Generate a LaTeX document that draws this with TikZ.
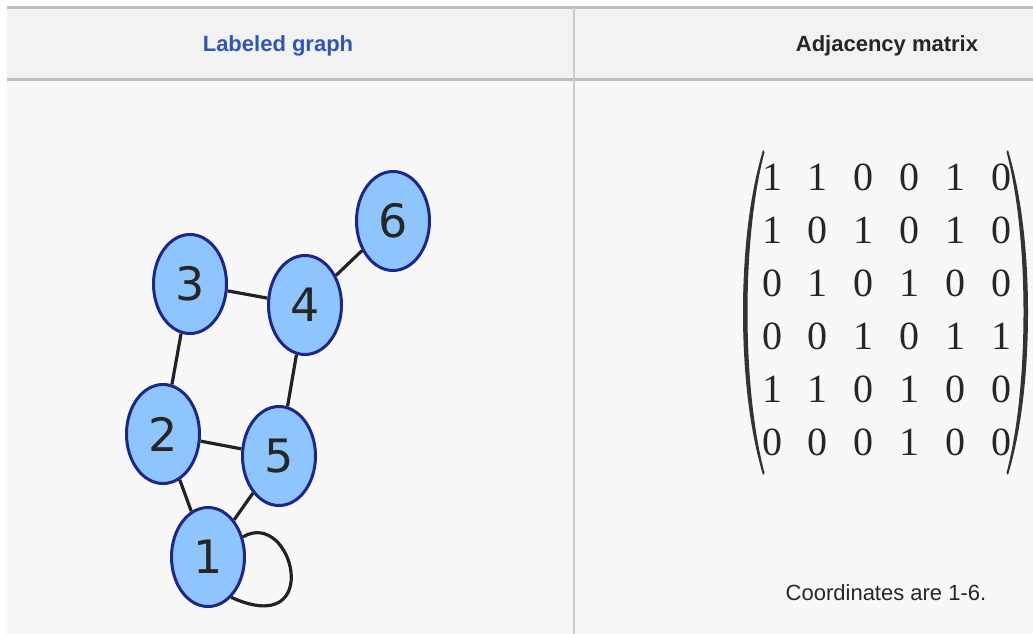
\documentclass[tikz,border=0pt]{standalone}
\usepackage{fontspec}
\setmainfont{Liberation Sans}
\newfontfamily\nodefont{DejaVu Sans}
\newfontfamily\matfont{Liberation Serif}
\usetikzlibrary{shapes.geometric}
\definecolor{hdrbg}{HTML}{F2F2F2}
\definecolor{bodybg}{HTML}{F8F8F8}
\definecolor{rulegray}{HTML}{BDBDBD}
\definecolor{divgray}{HTML}{CCCCCC}
\definecolor{nodefill}{HTML}{8EC5FD}
\definecolor{nodeedge}{HTML}{1C268C}
\definecolor{linkblue}{HTML}{2F55B8}
\definecolor{edgecol}{HTML}{222222}
\tikzset{
  vert/.style={ellipse, draw=nodeedge, fill=nodefill, line width=3pt,
    minimum width=73pt, minimum height=99pt, inner sep=0pt,
    font=\nodefont\fontsize{46}{46}\selectfont, text=black!85},
  link/.style={draw=edgecol, line width=3.2pt},
  entry/.style={inner sep=0pt, text height=27pt, text depth=0pt,
    font=\matfont\fontsize{40}{40}\selectfont, text=black!85},
  hdr/.style={font=\bfseries\fontsize{22}{22}\selectfont, inner sep=0pt},
  paren/.style={fill=black!80, draw=none}
}
\begin{document}
\begin{tikzpicture}[x=1pt,y=-1pt]
\useasboundingbox (0,0) rectangle (1033,634);
\fill[white] (0,0) rectangle (1033,634);
% table
\fill[hdrbg] (7,8) rectangle (1033,79);
\fill[bodybg] (7,79) rectangle (1033,634);
\draw[rulegray, line width=3pt] (7,8) -- (1033,8);
\draw[rulegray, line width=3pt] (7,79) -- (1033,79);
\draw[divgray, line width=2pt] (574,8) -- (574,634);
\node[hdr, text=linkblue] (h1) at (278,46) {Labeled graph};
\node[hdr, text=black!85] (h2) at (887,46) {Adjacency matrix};
% graph
\node[vert] (n1) at (208,557) {1};
\node[vert] (n2) at (163,434) {2};
\node[vert] (n3) at (190,284) {3};
\node[vert] (n4) at (305,305) {4};
\node[vert] (n5) at (279,456) {5};
\node[vert] (n6) at (393,221) {6};
\draw[link] (n1) -- (n2);
\draw[link] (n1) -- (n5);
\draw[link] (n2) -- (n3);
\draw[link] (n2) -- (n5);
\draw[link] (n3) -- (n4);
\draw[link] (n4) -- (n5);
\draw[link] (n4) -- (n6);
\draw[link] (n1.30) .. controls (293,508) and (325,640) .. (n1.-60);
% matrix
\foreach \row [count=\r] in {{1,1,0,0,1,0},{1,0,1,0,1,0},{0,1,0,1,0,0},{0,0,1,0,1,1},{1,1,0,1,0,0},{0,0,0,1,0,0}}{
  \foreach \v [count=\c] in \row {
    \node[entry] (m-\r-\c) at ({772+45.8*(\c-1)},{177+53*(\r-1)}) {\v};
  }
}
\fill[paren] (763,150) .. controls (748,200) and (743,260) .. (743,312)
  .. controls (743,365) and (748,425) .. (763,475)
  -- (764.5,473) .. controls (752,425) and (747.5,365) .. (747.5,312)
  .. controls (747.5,260) and (752,200) .. (764.5,152) -- cycle;
\fill[paren] (1008,150) .. controls (1023,200) and (1028,260) .. (1028,312)
  .. controls (1028,365) and (1023,425) .. (1008,475)
  -- (1006.5,473) .. controls (1019,425) and (1023.5,365) .. (1023.5,312)
  .. controls (1023.5,260) and (1019,200) .. (1006.5,152) -- cycle;
\node[font=\fontsize{22}{22}\selectfont, inner sep=0pt, text=black!85] (cap) at (886,593) {Coordinates are 1-6.};
\end{tikzpicture}
\end{document}
